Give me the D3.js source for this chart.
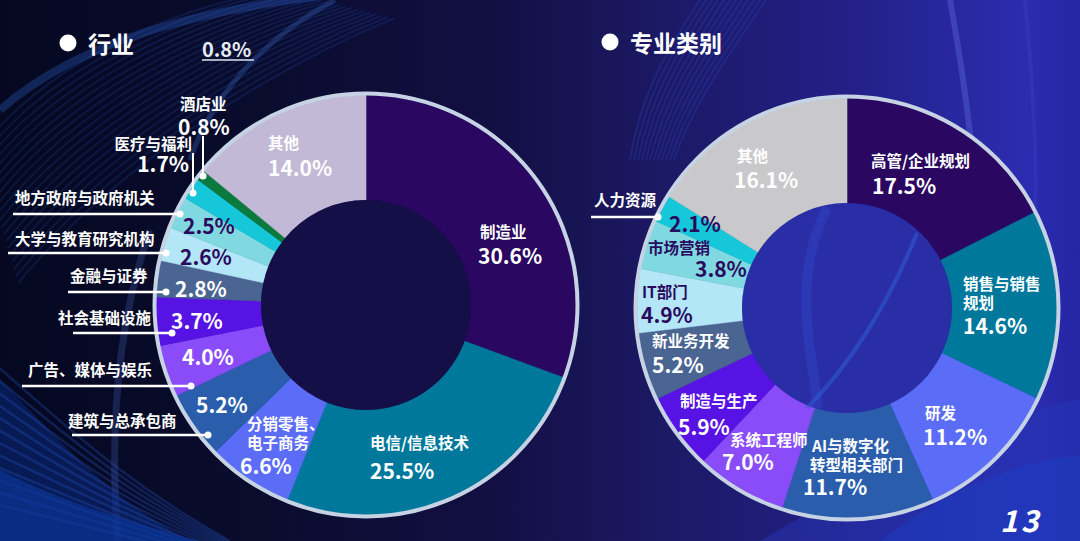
<!DOCTYPE html>
<html><head><meta charset="utf-8">
<script src="https://cdn.jsdelivr.net/npm/d3@7/dist/d3.min.js"></script>
<style>
html,body{margin:0;padding:0;background:#0b0c30;}
svg{display:block;}
text{font-family:"Noto Sans CJK SC","Noto Sans",sans-serif;}
</style></head>
<body>
<svg id="chart" width="1080" height="541"></svg>
<script>
// ---------- DATA ----------
const industries = ["制造业","电信/信息技术","分销零售、电子商务","建筑与总承包商","广告、媒体与娱乐","社会基础设施","金融与证券","大学与教育研究机构","地方政府与政府机关","医疗与福利","酒店业","其他"];
const industryValues = [30.6,25.5,6.6,5.2,4.0,3.7,2.8,2.6,2.5,1.7,0.8,14.0];
const roles = ["高管/企业规划","销售与销售规划","研发","AI与数字化转型相关部门","系统工程师","制造与生产","新业务开发","IT部门","市场营销","人力资源","其他"];
const roleValues = [17.5,14.6,11.2,11.7,7.0,5.9,5.2,4.9,3.8,2.1,16.1];
const titles = ["行业","专业类别"];
const pageNumber = "13";
const extraLabel = "0.8%";

// ---------- STYLES ----------
const industryColors = ["#2a0760","#00789c","#5b6cf7","#2a5eac","#8a4cf8","#5712e4","#4a6592","#b3e6f7","#80d9e0","#16c6d9","#0b7a3e","#c1b9d6"];
const roleColors = ["#2a0760","#00789c","#5b6cf7","#2a5eac","#8a4cf8","#5712e4","#4a6592","#b3e6f7","#80d9e0","#16c6d9","#c9c9cc"];
const DARK = "#2a0a5e";
const NAME_SIZE = 15.5, PCT_SIZE = 21;

// label layout: name lines, name pos (left x, centre y), pct pos, dark?, anchor, leader
const industryLayout = [
  {lines:["制造业"], nx:480, ny:232, px:478, py:256},
  {lines:["电信/信息技术"], nx:370, ny:443, px:370, py:471},
  {lines:["分销零售、","电子商务"], nx:247, ny:424, px:240, py:466},
  {lines:["建筑与总承包商"], nx:68, ny:421, px:196, py:405, leader:{x1:72,y:435,x2:208}},
  {lines:["广告、媒体与娱乐"], nx:28, ny:370, px:182, py:357, leader:{x1:22,y:386,x2:191}},
  {lines:["社会基础设施"], nx:58, ny:318, px:171, py:321, leader:{x1:73,y:333,x2:172}},
  {lines:["金融与证券"], nx:70, ny:276, px:175, py:289, leader:{x1:68,y:292,x2:166}},
  {lines:["大学与教育研究机构"], nx:15, ny:239, px:180, py:257, dark:true, leader:{x1:8,y:253,x2:166}},
  {lines:["地方政府与政府机关"], nx:15, ny:198, px:183, py:226, dark:true, leader:{x1:13,y:214,x2:180}},
  {lines:["医疗与福利"], nx:192, ny:144, px:189, py:164, anchor:"end", vleader:{x:193,y1:153,y2:193}},
  {lines:["酒店业"], nx:180, ny:104, px:178, py:127, vleader:{x:203,y1:136,y2:176}},
  {lines:["其他"], nx:268, ny:143, px:268, py:168}
];
const roleLayout = [
  {lines:["高管/企业规划"], nx:871, ny:161, px:872, py:186},
  {lines:["销售与销售","规划"], nx:963, ny:284, px:963, py:326},
  {lines:["研发"], nx:925, ny:413, px:923, py:437},
  {lines:["AI与数字化","转型相关部门"], nx:812, ny:446, px:803, py:487, lineX:[812,810]},
  {lines:["系统工程师"], nx:730, ny:440, px:722, py:462},
  {lines:["制造与生产"], nx:680, ny:401, px:678, py:427},
  {lines:["新业务开发"], nx:652, ny:341, px:652, py:365},
  {lines:["IT部门"], nx:642, ny:292, px:641, py:315, dark:true},
  {lines:["市场营销"], nx:648, ny:248, px:695, py:269, dark:true},
  {lines:["人力资源"], nx:594, ny:200, px:669, py:224, dark:true, leader:{x1:591,y:217,x2:658}},
  {lines:["其他"], nx:737, ny:156, px:734, py:180}
];

const W = 1080, H = 541;
const svg = d3.select("#chart");
const defs = svg.append("defs");

// ---------- BACKGROUND ----------
const bg = defs.append("linearGradient").attr("id","bg").attr("x1","0").attr("y1","0").attr("x2","1").attr("y2","0");
[[0,"#050820"],[0.25,"#0a0c2e"],[0.45,"#120f42"],[0.6,"#1b1862"],[0.8,"#23218a"],[0.95,"#2c2cb0"],[1,"#2426a4"]].forEach(s=>bg.append("stop").attr("offset",s[0]).attr("stop-color",s[1]));
svg.append("rect").attr("width",W).attr("height",H).attr("fill","url(#bg)");

const deco = svg.append("g").attr("fill","none");
for(let i=0;i<20;i++){
  deco.append("path")
    .attr("d",`M${-20+i*2},${150+i*7} C${40+i*4},${70+i*5} ${160+i*6},${10+i*3} ${280+i*6},${-10+i*1.5}`)
    .attr("stroke","#1f4db0").attr("stroke-opacity",0.22).attr("stroke-width",2);
}
deco.append("path").attr("d","M0,110 C80,40 200,10 330,-5").attr("stroke","#2a5cc0").attr("stroke-opacity",0.35).attr("stroke-width",8);
deco.append("path").attr("d","M190,160 C210,100 260,40 335,0").attr("stroke","#3a60b8").attr("stroke-opacity",0.35).attr("stroke-width",5);
deco.append("path").attr("d","M118,541 C110,440 115,330 150,230").attr("stroke","#2b3c78").attr("stroke-opacity",0.5).attr("stroke-width",7);
deco.append("path").attr("d","M0,380 C60,440 110,500 190,541 L0,541 Z").attr("fill","#0b2a80").attr("fill-opacity",0.55);
for(let i=0;i<12;i++){
  deco.append("path")
    .attr("d",`M-10,${360+i*13} C60,${420+i*9} 120,${480+i*5} 230,${541+i*2}`)
    .attr("stroke","#2456c8").attr("stroke-opacity",0.3).attr("stroke-width",2.5);
}
deco.append("path").attr("d","M0,470 C60,500 120,520 200,541 L0,541 Z").attr("fill","#0c38a0").attr("fill-opacity",0.6);
deco.append("path").attr("d","M950,0 C972,120 985,240 972,330").attr("stroke","#5058cc").attr("stroke-opacity",0.55).attr("stroke-width",6);
deco.append("path").attr("d","M1025,0 C1035,100 1040,200 1030,300").attr("stroke","#3a40c0").attr("stroke-opacity",0.4).attr("stroke-width",4);
for(let i=0;i<12;i++){
  deco.append("path")
    .attr("d",`M${700+i*6},0 C${660+i*6},60 ${640+i*5},100 ${630+i*4},160`)
    .attr("stroke","#2a4cc8").attr("stroke-opacity",0.25).attr("stroke-width",2);
}
deco.append("path").attr("d","M760,541 C880,470 1000,410 1080,400 L1080,541 Z").attr("fill","#2638b8").attr("fill-opacity",0.45);
deco.append("path").attr("d","M880,541 C960,480 1030,460 1080,455 L1080,541 Z").attr("fill","#1a40c8").attr("fill-opacity",0.4);

// ---------- DONUTS ----------
const pie = d3.pie().sort(null).value(d=>d);
const arc = d3.arc().innerRadius(105).outerRadius(210);

function donut(cx, cy, values, colors, holeFill){
  const g = svg.append("g").attr("transform",`translate(${cx},${cy})`);
  g.selectAll("path.slice").data(pie(values)).join("path")
    .attr("class","slice").attr("d",arc).attr("fill",(d,i)=>colors[i])
    .attr("stroke",(d,i)=>colors[i]).attr("stroke-width",0.6);
  g.append("circle").attr("r",211.5).attr("fill","none").attr("stroke","#c6d3e4").attr("stroke-width",4);
  if(holeFill) g.append("circle").attr("r",105).attr("fill",holeFill);
  return g;
}
donut(366, 305, industryValues, industryColors, "#150f48");
const rg = donut(847, 308, roleValues, roleColors, "#2a2ea6");
rg.append("path").attr("d","M-20,-100 C-60,-20 -30,60 -30,100").attr("fill","none").attr("stroke","#3040c0").attr("stroke-opacity",0.6).attr("stroke-width",10);
rg.append("path").attr("d","M70,-75 C40,0 0,60 -40,100").attr("fill","none").attr("stroke","#2f5ad0").attr("stroke-opacity",0.6).attr("stroke-width",4);

// ---------- LABELS ----------
function labels(values, names, layout){
  const g = svg.append("g");
  layout.forEach((L,i)=>{
    const col = L.dark ? DARK : "#ffffff";
    const anchor = L.anchor || "start";
    const t = g.append("text").attr("text-anchor",anchor);
    L.lines.forEach((ln,k)=>{
      t.append("tspan").attr("x", L.lineX ? L.lineX[k] : L.nx).attr("y", L.ny + k*19 + NAME_SIZE*0.36)
        .attr("font-size",NAME_SIZE).attr("font-weight",700)
        .attr("fill", (L.leader ? "#ffffff" : col)).text(ln);
    });
    t.append("tspan").attr("x",L.px).attr("y",L.py + PCT_SIZE*0.36)
      .attr("font-size",PCT_SIZE).attr("font-weight",600)
      .attr("fill",col).text(values[i].toFixed(1)+"%");
    if(L.leader){
      g.append("line").attr("x1",L.leader.x1).attr("x2",L.leader.x2).attr("y1",L.leader.y).attr("y2",L.leader.y)
        .attr("stroke","#ffffff").attr("stroke-width",2.5);
      g.append("circle").attr("cx",L.leader.x2).attr("cy",L.leader.y).attr("r",3.5).attr("fill","#ffffff");
    }
    if(L.vleader){
      g.append("line").attr("x1",L.vleader.x).attr("x2",L.vleader.x).attr("y1",L.vleader.y1).attr("y2",L.vleader.y2)
        .attr("stroke","#ffffff").attr("stroke-width",2);
      g.append("circle").attr("cx",L.vleader.x).attr("cy",L.vleader.y2).attr("r",3.5).attr("fill","#ffffff");
    }
  });
}
labels(industryValues, industries, industryLayout);
labels(roleValues, roles, roleLayout);

// ---------- TITLES ----------
[[68,43,88],[610,42,630]].forEach((p,i)=>{
  svg.append("circle").attr("cx",p[0]).attr("cy",p[1]).attr("r",8.5).attr("fill","#ffffff");
  svg.append("text").attr("x",p[2]).attr("y",p[1]).attr("dominant-baseline","central")
    .attr("font-size",23).attr("font-weight",700).attr("fill","#ffffff").text(titles[i]);
});
svg.append("text").attr("x",202).attr("y",48).attr("dominant-baseline","central")
  .attr("font-size",20).attr("font-weight",600).attr("fill","#e8ecf4").text(extraLabel);
svg.append("line").attr("x1",202).attr("x2",254).attr("y1",60).attr("y2",60).attr("stroke","#dde3ee").attr("stroke-width",1.5);
svg.append("text").attr("x",1000).attr("y",532)
  .attr("font-family","'DejaVu Sans',sans-serif").attr("font-size",30).attr("font-weight",700).attr("font-style","italic")
  .attr("letter-spacing",3).attr("fill","#ffffff").text(pageNumber);
</script>
</body></html>
